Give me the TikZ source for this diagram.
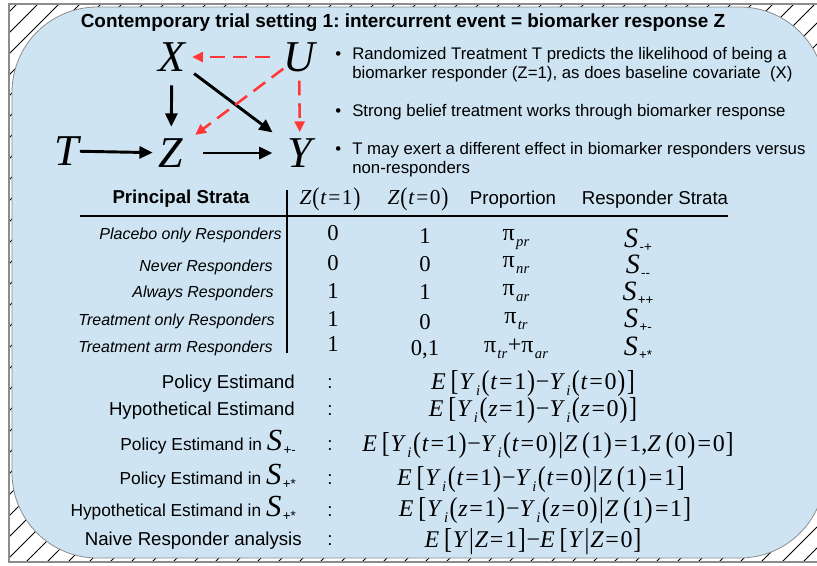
\documentclass[tikz,border=0pt]{standalone}
\usepackage{fontspec}
\setmainfont{Liberation Sans}
\newfontfamily\ser{Liberation Serif}
\usepackage{graphicx}
\usetikzlibrary{arrows.meta}
\frenchspacing
\definecolor{panel}{RGB}{206,228,243}
\definecolor{rim}{RGB}{140,140,140}
\definecolor{dred}{RGB}{255,55,55}
\newcommand{\V}[1]{\textit{#1}}
\newcommand{\Eq}{\hspace{1.2pt}=\hspace{1.2pt}}
\newcommand{\Ss}[1]{\hspace{1pt}\raisebox{-4.5pt}{\fontsize{11}{11}\selectfont\textit{#1}}\hspace{0.5pt}}
\newcommand{\Bk}[1]{\hspace{0.6pt}\raisebox{-1pt}{\scalebox{1}[1.2]{#1}}\hspace{0.6pt}}
\newcommand{\BigS}[2][21]{{\fontsize{#1}{#1}\selectfont\ser\itshape S}\hspace{1pt}\raisebox{-3.5pt}{\fontsize{10}{10}\selectfont\normalfont\upshape #2}}
\begin{document}
\begin{tikzpicture}[x=0.75pt,y=-0.75pt,
 dagv/.style={circle,inner sep=0pt,minimum size=33pt,font=\fontsize{33}{33}\selectfont\ser\itshape},
 blk/.style={line width=2.2pt,-{Triangle[length=10pt,width=9pt]}},
 rdd/.style={dred,line width=1.9pt,dash pattern=on 11pt off 6pt,-{Triangle[length=8pt,width=7.5pt]}},
 ttl/.style={anchor=base,inner sep=0pt,font=\fontsize{14.2}{16}\selectfont\bfseries},
 bul/.style={anchor=base west,inner sep=0pt,font=\fontsize{12.6}{14}\selectfont},
 hdr/.style={anchor=base,inner sep=0pt,font=\fontsize{14}{16}\selectfont},
 zh/.style={anchor=base,inner sep=0pt,font=\fontsize{16}{18}\selectfont\ser},
 rowl/.style={anchor=base east,inner sep=0pt,font=\fontsize{12}{14}\selectfont\itshape},
 num/.style={anchor=base,inner sep=0pt,font=\fontsize{17}{19}\selectfont\ser},
 pin/.style={anchor=base,inner sep=0pt,font=\fontsize{18}{20}\selectfont\ser},
 estl/.style={anchor=base east,inner sep=0pt,font=\fontsize{14}{16}\selectfont},
 estls/.style={anchor=base east,inner sep=0pt,font=\fontsize{13}{15}\selectfont},
 frm/.style={anchor=base,inner sep=0pt,font=\fontsize{18}{20}\selectfont\ser},
 rule/.style={line width=2.2pt}]
\useasboundingbox (0,0) rectangle (817,565);
% frame, hatching and panel
\begin{scope}
\clip (0,0) rectangle (817,565);
\begin{scope}
\clip (9,4) rectangle (840,562);
\foreach \k in {-600,-579,...,900} \draw[line width=0.6pt] (\k,600) -- ++(640,-640);
\end{scope}
\draw[rim,line width=2.2pt] (9,4) rectangle (840,562);
\filldraw[fill=panel,draw=rim,line width=0.6pt,rounded corners=64pt] (12,7) rectangle (825,558);
\end{scope}
% title
\node[ttl] (title) at (403,27) {Contemporary trial setting 1: intercurrent event = biomarker response Z};
% DAG
\node[dagv] (X) at (172,57) {X};
\node[dagv] (U) at (299,57) {U};
\node[dagv] (T) at (67,151) {T};
\node[dagv] (Z) at (171,153) {Z};
\node[dagv] (Y) at (300,153) {Y};
\draw[rdd,shorten <=5pt,shorten >=-1.5pt] (U) -- (X);
\draw[blk,shorten <=4.5pt,shorten >=3pt] (X) -- (Z);
\draw[blk,shorten <=4pt,shorten >=9pt] (X) -- (Y);
\draw[rdd,shorten <=-2pt,shorten >=6pt] (U) -- (Z);
\draw[rdd,shorten <=1pt,shorten >=-1pt] (U) -- (Y);
\draw[blk,shorten <=-7pt,shorten >=-3pt] (T) -- (Z);
\draw[blk,shorten <=7.5pt,shorten >=4pt] (Z) -- (Y);
% bullets
\node[bul] (d1) at (335,59) {•};
\node[bul] (b1a) at (352,59) {Randomized Treatment T predicts the likelihood of being a};
\node[bul] (b1b) at (352,78) {biomarker responder (Z=1), as does baseline covariate~~(X)};
\node[bul] (d2) at (335,116) {•};
\node[bul] (b2) at (352,116) {Strong belief treatment works through biomarker response};
\node[bul] (d3) at (335,154) {•};
\node[bul] (b3a) at (352,154) {T may exert a different effect in biomarker responders versus};
\node[bul] (b3b) at (352,173) {non-responders};
% table header
\node[hdr,font=\fontsize{14}{16}\selectfont\bfseries] (hps) at (181,203) {Principal Strata};
\node[zh] (hz1) at (330,204) {\V{Z}\Bk{(}\V{t}\Eq1\Bk{)}};
\node[zh] (hz0) at (418,204) {\V{Z}\Bk{(}\V{t}\Eq0\Bk{)}};
\node[hdr] (hpr) at (513,204) {Proportion};
\node[hdr] (hrs) at (655,204) {Responder Strata};
\coordinate (hl) at (80,216);
\coordinate (hr) at (728,216);
\coordinate (vt) at (287,190);
\coordinate (vb) at (287,353);
\draw[rule] (hl) -- (hr);
\draw[rule] (vt) -- (vb);
% rows
\node[rowl] (r1) at (282,239) {Placebo only Responders};
\node[rowl] (r2) at (273,271) {Never Responders};
\node[rowl] (r3) at (274,297) {Always Responders};
\node[rowl] (r4) at (275,325) {Treatment only Responders};
\node[rowl] (r5) at (273,352) {Treatment arm Responders};
\node[num] (a1) at (333,240) {0};
\node[num] (a2) at (333,270) {0};
\node[num] (a3) at (333,298) {1};
\node[num] (a4) at (333,326) {1};
\node[num] (a5) at (333,351) {1};
\node[num] (c1) at (425,243) {1};
\node[num] (c2) at (425,271) {0};
\node[num] (c3) at (425,299) {1};
\node[num] (c4) at (425,329) {0};
\node[num] (c5) at (425,355) {0,1};
\node[pin] (p1) at (516,240) {π\Ss{pr}};
\node[pin] (p2) at (516,267) {π\Ss{nr}};
\node[pin] (p3) at (516,295) {π\Ss{ar}};
\node[pin] (p4) at (516,323) {π\Ss{tr}};
\node[pin] (p5) at (516,352) {π\Ss{tr}+π\Ss{ar}};
\node[num] (s1) at (638,247) {\BigS{-+}};
\node[num] (s2) at (638,273) {\BigS{-{}-}};
\node[num] (s3) at (638,300) {\BigS{++}};
\node[num] (s4) at (638,327) {\BigS{+-}};
\node[num] (s5) at (638,355) {\BigS{+*}};
% estimands
\node[estl] (e1) at (295,388) {Policy Estimand};
\node[estl] (e2) at (295,415) {Hypothetical Estimand};
\node[estls] (e3) at (296,450) {Policy Estimand in \BigS[23]{+-}};
\node[estls] (e4) at (296,484) {Policy Estimand in \BigS[23]{+*}};
\node[estls] (e5) at (296,516) {Hypothetical Estimand in \BigS[23]{+*}};
\node[estl] (e6) at (302,545) {Naive Responder analysis};
\foreach \yy/\nm in {388/k1,415/k2,450/k3,484/k4,516/k5,545/k6}
  \node[hdr] (\nm) at (330,\yy) {:};
\node[frm] (f1) at (533,389) {\V{E}\,\Bk{[}\V{Y}\Ss{i}\Bk{(}\V{t}\Eq1\Bk{)}−\V{Y}\Ss{i}\Bk{(}\V{t}\Eq0\Bk{)}\Bk{]}};
\node[frm] (f2) at (533,416) {\V{E}\,\Bk{[}\V{Y}\Ss{i}\Bk{(}\V{z}\Eq1\Bk{)}−\V{Y}\Ss{i}\Bk{(}\V{z}\Eq0\Bk{)}\Bk{]}};
\node[frm] (f3) at (548,451) {\V{E}\,\Bk{[}\V{Y}\Ss{i}\Bk{(}\V{t}\Eq1\Bk{)}−\V{Y}\Ss{i}\Bk{(}\V{t}\Eq0\Bk{)}\Bk{|}\V{Z}\,\Bk{(}1\Bk{)}\Eq1,\V{Z}\,\Bk{(}0\Bk{)}\Eq0\Bk{]}};
\node[frm] (f4) at (541,485) {\V{E}\,\Bk{[}\V{Y}\Ss{i}\Bk{(}\V{t}\Eq1\Bk{)}−\V{Y}\Ss{i}\Bk{(}\V{t}\Eq0\Bk{)}\Bk{|}\V{Z}\,\Bk{(}1\Bk{)}\Eq1\Bk{]}};
\node[frm] (f5) at (545,516) {\V{E}\,\Bk{[}\V{Y}\Ss{i}\Bk{(}\V{z}\Eq1\Bk{)}−\V{Y}\Ss{i}\Bk{(}\V{z}\Eq0\Bk{)}\Bk{|}\V{Z}\,\Bk{(}1\Bk{)}\Eq1\Bk{]}};
\node[frm] (f6) at (533,547) {\V{E}\,\Bk{[}\V{Y}\Bk{|}\V{Z}\Eq1\Bk{]}−\V{E}\,\Bk{[}\V{Y}\Bk{|}\V{Z}\Eq0\Bk{]}};
\end{tikzpicture}
\end{document}
